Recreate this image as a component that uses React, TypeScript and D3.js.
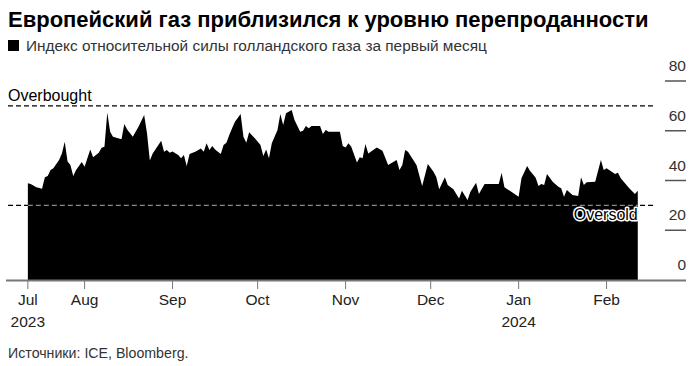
import React from "react";
import * as d3 from "d3";

const dates: string[] = [
  "2023-07-12","2023-07-13","2023-07-15","2023-07-17","2023-07-18","2023-07-19","2023-07-20","2023-07-21","2023-07-23","2023-07-24",
  "2023-07-25","2023-07-26","2023-07-27","2023-07-28","2023-07-29","2023-07-31","2023-08-01","2023-08-03","2023-08-04","2023-08-06",
  "2023-08-07","2023-08-08","2023-08-09","2023-08-10","2023-08-11","2023-08-14","2023-08-15","2023-08-16","2023-08-18","2023-08-20",
  "2023-08-22","2023-08-23","2023-08-24","2023-08-25","2023-08-28","2023-08-29","2023-08-30","2023-08-31","2023-09-01","2023-09-03",
  "2023-09-04","2023-09-05","2023-09-06","2023-09-07","2023-09-09","2023-09-11","2023-09-12","2023-09-13","2023-09-14","2023-09-15",
  "2023-09-16","2023-09-18","2023-09-19","2023-09-20","2023-09-21","2023-09-22","2023-09-23","2023-09-25","2023-09-26","2023-09-27",
  "2023-09-28","2023-09-30","2023-10-02","2023-10-03","2023-10-04","2023-10-05","2023-10-06","2023-10-08","2023-10-09","2023-10-10",
  "2023-10-11","2023-10-13","2023-10-14","2023-10-16","2023-10-17","2023-10-18","2023-10-19","2023-10-20","2023-10-23","2023-10-24",
  "2023-10-25","2023-10-26","2023-10-30","2023-10-31","2023-11-01","2023-11-02","2023-11-03","2023-11-05","2023-11-06","2023-11-07",
  "2023-11-08","2023-11-09","2023-11-12","2023-11-14","2023-11-16","2023-11-19","2023-11-20","2023-11-21","2023-11-22","2023-11-23",
  "2023-11-26","2023-11-28","2023-11-30","2023-12-02","2023-12-03","2023-12-04","2023-12-06","2023-12-07","2023-12-09","2023-12-11",
  "2023-12-12","2023-12-14","2023-12-15","2023-12-17","2023-12-18","2023-12-20","2023-12-25","2023-12-26","2023-12-27","2024-01-01",
  "2024-01-02","2024-01-04","2024-01-05","2024-01-07","2024-01-08","2024-01-09","2024-01-10","2024-01-11","2024-01-13","2024-01-15",
  "2024-01-16","2024-01-17","2024-01-18","2024-01-20","2024-01-22","2024-01-23","2024-01-24","2024-01-25","2024-01-28","2024-01-30",
  "2024-01-31","2024-02-01","2024-02-04","2024-02-05","2024-02-06","2024-02-09","2024-02-11","2024-02-12"
];

const rsiValues: number[] = [
  38.9,38.6,37.3,36.7,41.3,41.8,44.2,44.9,48.2,50.9,
  55.6,47.6,46.2,41.8,44.2,47.4,45.5,52.5,49.3,51.2,
  53.2,53.6,67.3,59.6,57.6,56.6,62.7,60.5,57.6,61.6,
  66.3,59.0,48.0,50.9,56.0,51.6,52.3,51.2,51.7,50.3,
  48.9,50.3,45.8,50.7,51.6,52.9,51.6,55.0,52.3,53.9,
  52.5,50.7,54.3,55.2,58.3,61.0,63.6,66.7,57.6,55.2,
  59.4,57.0,54.3,49.8,52.5,48.9,55.0,60.3,66.7,62.3,
  67.0,68.3,64.3,59.6,60.0,61.9,61.0,61.9,61.9,58.7,
  60.3,59.6,59.6,53.9,53.3,55.0,53.6,47.2,49.3,48.9,
  54.7,50.9,53.3,52.0,46.2,48.2,44.2,46.2,52.3,51.6,
  46.2,37.8,46.6,43.5,41.3,36.5,41.3,38.2,36.5,32.8,
  35.9,32.2,35.5,39.1,34.6,38.6,38.6,43.1,37.3,33.5,
  40.9,45.8,43.9,41.1,37.8,38.6,38.2,42.6,39.5,37.5,
  36.9,33.5,36.2,34.2,33.8,41.3,38.2,39.3,39.5,48.2,
  44.2,44.9,42.6,43.1,40.9,36.9,34.6,35.9
];

const yTicks: number[] = [0, 20, 40, 60, 80];
const xTickDates: string[] = ["2023-07-12","2023-08-01","2023-09-01","2023-10-01","2023-11-01","2023-12-01","2024-01-01","2024-02-01"];
const xTickLabels: string[] = ["Jul","Aug","Sep","Oct","Nov","Dec","Jan","Feb"];
const xTickYears: string[] = ["2023","","","","","","2024",""];
const overbought = 70;
const oversold = 30;

const title = "Европейский газ приблизился к уровню перепроданности";
const subtitle = "Индекс относительной силы голландского газа за первый месяц";
const source = "Источники: ICE, Bloomberg.";

const parse = d3.utcParse("%Y-%m-%d");

export default function App() {
  const W = 694, H = 366;
  const font = "'Liberation Sans', Arial, sans-serif";
  const x = d3.scaleUtc().domain([parse("2023-07-05")!, parse("2024-02-29")!]).range([8, 686]);
  const y = d3.scaleLinear().domain([0, 80]).range([280, 81]);
  const data = dates.map((d, i) => ({ date: parse(d)!, v: rsiValues[i] }));
  const area = d3.area<{ date: Date; v: number }>()
    .x(d => x(d.date))
    .y0(y(0))
    .y1(d => y(d.v))
    .curve(d3.curveLinear);
  const x0 = x(data[0].date);
  const x1 = x(data[data.length - 1].date);
  const lineEnd = 656;

  return (
    <svg width={W} height={H} style={{ position: "absolute", left: 0, top: 0, background: "#fff" }} fontFamily={font}>
      <text x={8} y={27} fontSize={22} fontWeight="bold" fill="#000">{title}</text>
      <rect x={8} y={40} width={11} height={11} fill="#000" />
      <text x={26} y={51} fontSize={15.4} fill="#333">{subtitle}</text>

      <line x1={8} x2={lineEnd} y1={y(overbought)} y2={y(overbought)} stroke="#000" strokeWidth={1.3} strokeDasharray="5,3" />
      <line x1={8} x2={lineEnd} y1={y(oversold)} y2={y(oversold)} stroke="#000" strokeWidth={1.3} strokeDasharray="5,3" />

      <path d={area(data) || ""} fill="#000" />

      <line x1={x0} x2={x1} y1={y(oversold)} y2={y(oversold)} stroke="#888" strokeWidth={1.3} strokeDasharray="5,3" />

      <text x={8} y={101} fontSize={16} fill="#000">Overbought</text>
      <text x={x1} y={220} fontSize={16} textAnchor="end" fill="#000" stroke="#fff" strokeWidth={3} paintOrder="stroke" strokeLinejoin="round">Oversold</text>

      {yTicks.map(t => (
        <g key={t}>
          {t > 0 && <line x1={665} x2={686} y1={y(t)} y2={y(t)} stroke="#555" strokeWidth={1.5} />}
          <text x={686} y={y(t) - 10} fontSize={15.5} textAnchor="end" fill="#333">{t}</text>
        </g>
      ))}

      <line x1={6} x2={686} y1={y(0) + 0.5} y2={y(0) + 0.5} stroke="#777" strokeWidth={2} />
      {xTickDates.map((d, i) => {
        const px = x(parse(d)!);
        return (
          <g key={d}>
            <line x1={px} x2={px} y1={281} y2={289} stroke="#777" strokeWidth={1} />
            <text x={px} y={305} fontSize={15.5} textAnchor="middle" fill="#222">{xTickLabels[i]}</text>
            {xTickYears[i] && <text x={px} y={327} fontSize={15.5} textAnchor="middle" fill="#222">{xTickYears[i]}</text>}
          </g>
        );
      })}

      <text x={8} y={358} fontSize={14.2} fill="#333">{source}</text>
    </svg>
  );
}
